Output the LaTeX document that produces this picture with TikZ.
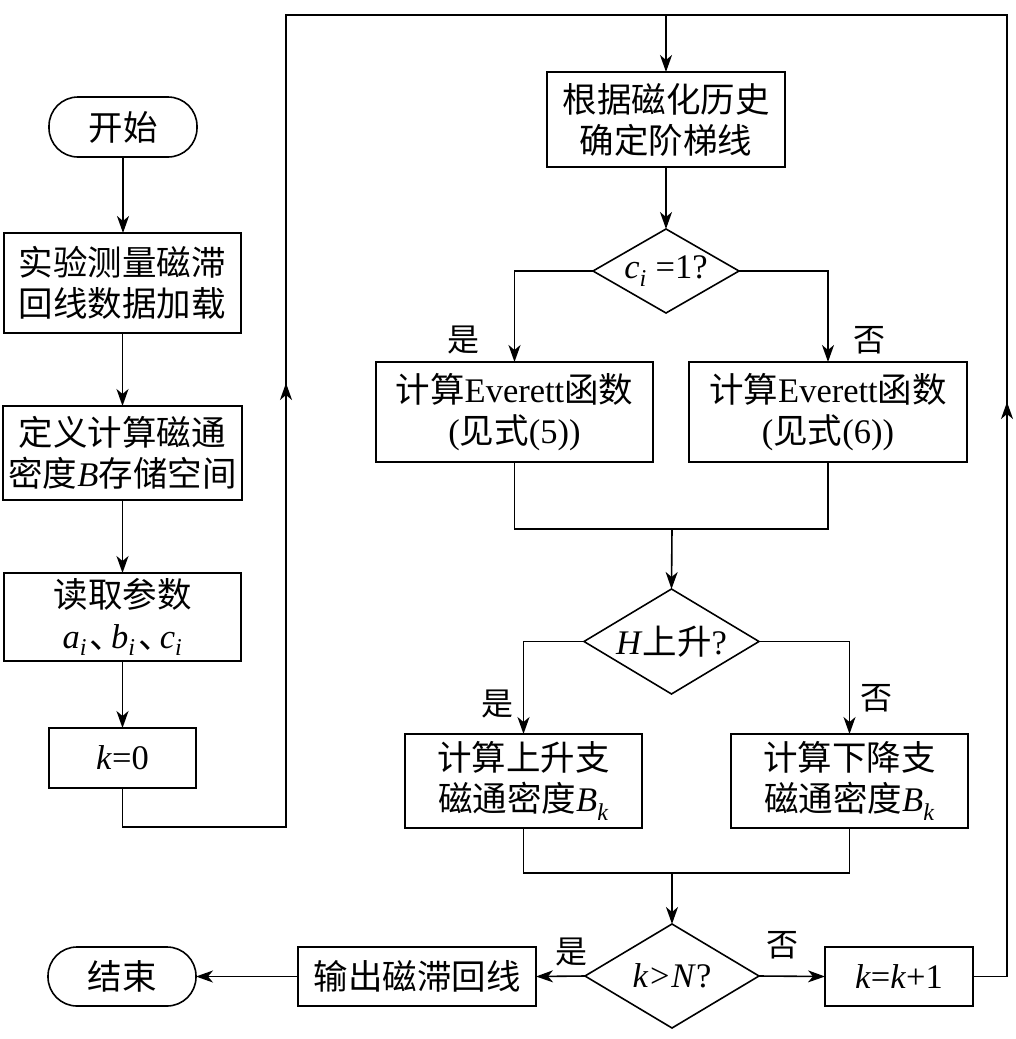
\documentclass[tikz,border=0pt]{standalone}
\usepackage{fontspec}
\setmainfont{Liberation Serif}
\newfontfamily\cjk{Noto Sans CJK SC}
\usetikzlibrary{shapes.geometric,arrows.meta}
\newcommand{\ci}[1]{\textit{#1}\textsubscript{\textit{i}}}
\newcommand{\Bk}{\textit{B}\textsubscript{\textit{k}}}
\newcommand{\dun}{\kern0.08em{\cjk 、}\kern-0.38em}
\begin{document}
\begin{tikzpicture}[x=1pt,y=-1pt,
  every node/.style={inner sep=0pt,outer sep=0pt},
  txt/.style={font=\fontsize{34.5}{41}\selectfont,align=center},
  box/.style={draw,line width=1.6pt,txt},
  pill/.style={box,rounded corners=29pt},
  dia/.style={draw,line width=1.6pt,diamond,shape aspect=1.7},
  lbl/.style={font=\fontsize{32}{36}\selectfont\cjk},
  ln/.style={line width=1.6pt},
  arr/.style={ln,-{Stealth[length=17pt,width=12pt,inset=5pt]}}]
\useasboundingbox (0,0) rectangle (1015,1039);
% left column
\node[pill,minimum width=148pt,minimum height=60pt] (start) at (123,127) {\cjk 开始};
\node[box,minimum width=237pt,minimum height=100pt] (b1) at (122.5,283) {\cjk 实验测量磁滞\\\cjk 回线数据加载};
\node[box,minimum width=239pt,minimum height=94pt] (b2) at (122.5,453) {\cjk 定义计算磁通\\{\cjk 密度}\textit{B}{\cjk 存储空间}};
\node[box,minimum width=237pt,minimum height=88pt] (b3) at (122.5,617) {\cjk 读取参数\\\ci{a}\dun\ci{b}\dun\ci{c}};
\node[box,minimum width=147pt,minimum height=60pt] (b4) at (122.5,758) {\textit{k}=0};
% top centre
\node[box,minimum width=238pt,minimum height=95pt] (hist) at (666,119.5) {\cjk 根据磁化历史\\\cjk 确定阶梯线};
\node[dia,minimum width=146pt,minimum height=84pt] (dc) at (666,271) {};
\node[txt] at (dc) {\ci{c} =1?};
\node[box,minimum width=277pt,minimum height=100pt] (e5) at (514.5,412) {{\cjk 计算}Everett{\cjk 函数}\\({\cjk 见式}(5))};
\node[box,minimum width=278pt,minimum height=100pt] (e6) at (828,412) {{\cjk 计算}Everett{\cjk 函数}\\({\cjk 见式}(6))};
\node[dia,minimum width=175pt,minimum height=105pt] (dh) at (671.5,641.5) {};
\node[txt] at (dh) {\textit{H}{\cjk 上升}?};
\node[box,minimum width=237pt,minimum height=94pt] (up) at (523.5,781) {\cjk 计算上升支\\{\cjk 磁通密度}\Bk};
\node[box,minimum width=237pt,minimum height=94pt] (dn) at (849.5,781) {\cjk 计算下降支\\{\cjk 磁通密度}\Bk};
\node[dia,minimum width=174pt,minimum height=104pt] (dk) at (672,976) {};
\node[txt] at (dk) {\textit{k}\kern0.05em>\kern0.05em\textit{N}?};
\node[box,minimum width=148pt,minimum height=59pt] (inc) at (899,976.5) {\textit{k}=\textit{k}+1};
\node[box,minimum width=238pt,minimum height=59pt] (out) at (417,976.5) {\cjk 输出磁滞回线};
\node[pill,minimum width=148pt,minimum height=59pt] (end) at (122,976.5) {\cjk 结束};
% coordinates
\coordinate (lb) at (286,827);
\coordinate (lt) at (286,15);
\coordinate (rt) at (1007,15);
\coordinate (rb) at (1007,976.5);
\coordinate (la1) at (286,420);
\coordinate (la2) at (286,383);
\coordinate (ra1) at (1007,440);
\coordinate (ra2) at (1007,402);
\coordinate (m1) at (672,529);
\coordinate (m2) at (672,873);
% connectors
\draw[arr] (start.south) -- (start.south |- b1.north);
\draw[arr] (b1) -- (b2);
\draw[arr] (b2) -- (b3);
\draw[arr] (b3) -- (b4);
\draw[arr] (b4.south) |- (lb) -- (lt) -| (hist.north);
\draw[ln] (inc.east) -- (rb) -- (rt) -- (hist.north |- rt);
\draw[arr] (la1) -- (la2);
\draw[arr] (ra1) -- (ra2);
\draw[arr] (hist) -- (dc);
\draw[arr] (dc.west) -| (e5.north);
\draw[arr] (dc.east) -| (e6.north);
\draw[ln] (e5.south) |- (m1) -| (e6.south);
\draw[arr] (m1) -- (dh.north);
\draw[arr] (dh.west) -| (up.north);
\draw[arr] (dh.east) -| (dn.north);
\draw[ln] (up.south) |- (m2) -| (dn.south);
\draw[arr] (m2) -- (dk.north);
\draw[arr] (dk.west) -- (out.east);
\draw[arr] (dk.east) -- (inc.west);
\draw[arr] (out.west) -- (end.east);
% branch labels
\node[lbl] (y1) at (463,340) {是};
\node[lbl] (n1) at (869,340) {否};
\node[lbl] (y2) at (497,704) {是};
\node[lbl] (n2) at (876,698) {否};
\node[lbl] (y3) at (571,952) {是};
\node[lbl] (n3) at (782,945) {否};
\end{tikzpicture}
\end{document}
